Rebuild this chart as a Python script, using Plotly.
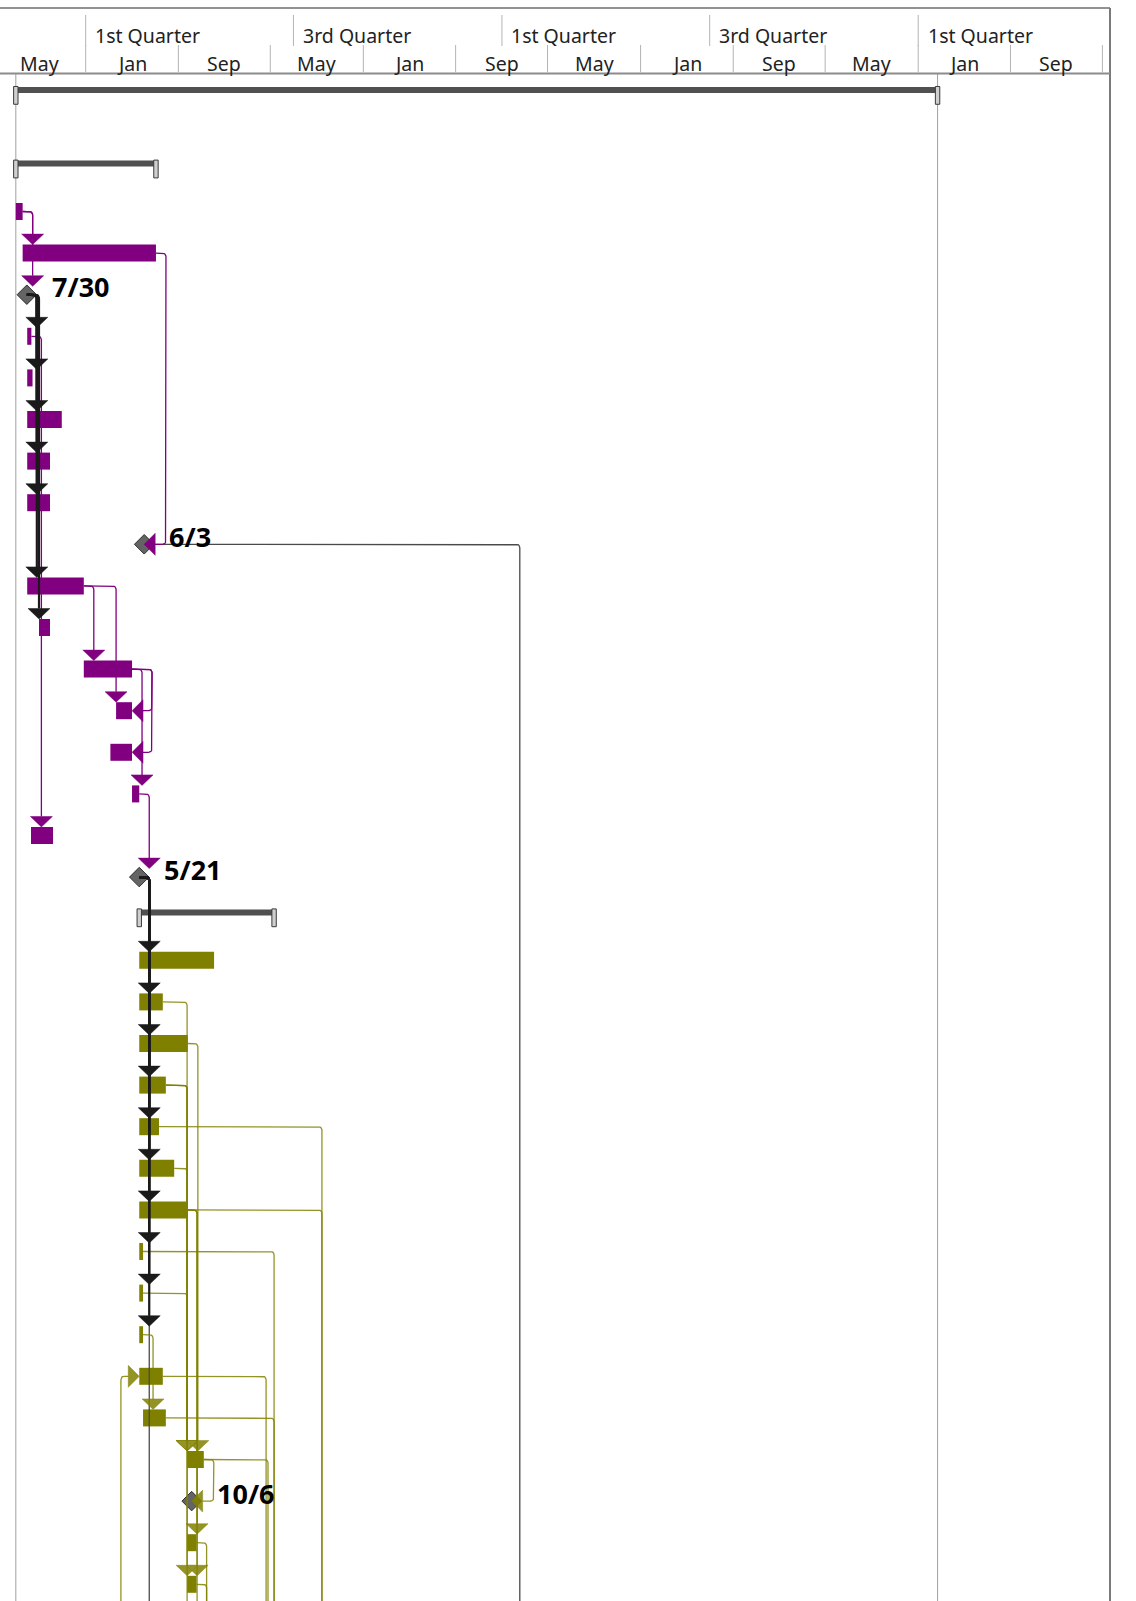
from datetime import datetime, timedelta
import math
import plotly.graph_objects as go

# ---------------- data ----------------
# timescale tiers (tick labels)
month_tier_starts = ["2019-05-01", "2020-01-01", "2020-09-01", "2021-05-01", "2022-01-01",
                     "2022-09-01", "2023-05-01", "2024-01-01", "2024-09-01", "2025-05-01",
                     "2026-01-01", "2026-09-01", "2027-05-01"]
month_tier_labels = ["May", "Jan", "Sep", "May", "Jan", "Sep", "May", "Jan", "Sep", "May", "Jan", "Sep"]
quarter_tier_starts = ["2020-01-01", "2021-07-01", "2023-01-01", "2024-07-01", "2026-01-01"]
quarter_tier_labels = ["1st Quarter", "3rd Quarter", "1st Quarter", "3rd Quarter", "1st Quarter"]

# tasks (row number, kind, start, finish, group, critical)
task_row = [0, 2, 3, 4, 5, 6, 7, 8, 9, 10, 11, 12, 13, 14, 15, 16, 17, 18, 19,
            20, 21, 22, 23, 24, 25, 26, 27, 28, 29, 30, 31, 32, 33, 34, 35, 36,
            40, 41, 42, 43, 44, 45, 46, 47, 48]
task_kind = ["summary", "summary", "task", "task", "milestone", "task", "task", "task", "task", "task",
             "milestone", "task", "task", "task", "task", "task", "task", "task", "milestone",
             "summary", "task", "task", "task", "task", "task", "task", "task", "task", "task", "task",
             "task", "task", "task", "milestone", "task", "task",
             "task", "task", "task", "task", "task", "task", "task", "task", "task"]
task_start = ["2019-07-01", "2019-07-01", "2019-07-01", "2019-07-19", "2019-07-30", "2019-07-31",
              "2019-07-31", "2019-07-31", "2019-07-31", "2019-07-31", "2020-06-03", "2019-07-31",
              "2019-08-31", "2019-12-27", "2020-03-21", "2020-03-06", "2020-05-02", "2019-08-10",
              "2020-05-21",
              "2020-05-21", "2020-05-21", "2020-05-21", "2020-05-21", "2020-05-21", "2020-05-21",
              "2020-05-21", "2020-05-21", "2020-05-21", "2020-05-21", "2020-05-21", "2020-05-21",
              "2020-05-31", "2020-09-24", "2020-10-06", "2020-09-24", "2020-09-24",
              "2023-02-17", "2020-05-21", "2021-09-14", "2021-05-11", "2021-04-20", "2021-04-25",
              "2020-04-29", "2020-10-10", "2020-09-24"]
task_finish = ["2026-02-21", "2020-07-04", "2019-07-19", "2020-07-04", "2019-07-30", "2019-08-11",
               "2019-08-14", "2019-10-30", "2019-09-29", "2019-09-29", "2020-06-03", "2019-12-27",
               "2019-09-29", "2020-05-02", "2020-05-02", "2020-05-02", "2020-05-21", "2019-10-07",
               "2020-05-21",
               "2021-05-11", "2020-12-04", "2020-07-22", "2020-09-26", "2020-07-30", "2020-07-12",
               "2020-08-21", "2020-09-24", "2020-05-31", "2020-05-31", "2020-05-31", "2020-07-22",
               "2020-07-30", "2020-11-07", "2020-10-06", "2020-10-19", "2020-10-19",
               "2023-06-01", "2020-08-01", "2021-12-01", "2021-08-01", "2021-07-01", "2021-07-01",
               "2020-06-01", "2020-12-01", "2020-11-01"]
task_group = ["proj", "proj", "purple", "purple", "ms", "purple", "purple", "purple", "purple", "purple",
              "ms", "purple", "purple", "purple", "purple", "purple", "purple", "purple", "ms",
              "proj", "olive", "olive", "olive", "olive", "olive", "olive", "olive", "olive", "olive",
              "olive", "olive", "olive", "olive", "ms", "olive", "olive",
              "olive", "olive", "olive", "olive", "olive", "olive", "olive", "olive", "olive"]
task_critical = [False, False, False, False, True, True, True, True, True, True,
                 False, True, True, False, False, False, False, False, True,
                 False, True, True, True, True, True, True, True, True, True, True,
                 False, False, False, False, False, False,
                 False, False, False, False, False, False, False, False, False]

# dependencies (by row number)
link_pred = [3, 3, 4, 5, 5, 5, 5, 5, 5, 5, 6, 12, 12, 14, 14, 14, 17, 11,
             19, 19, 19, 19, 19, 19, 19, 19, 19, 19, 19,
             22, 23, 24, 26, 29, 24, 27, 27, 27, 24, 25, 27, 28, 30, 31, 32, 33, 33, 46, 35, 36]
link_succ = [4, 5, 11, 6, 7, 8, 9, 10, 12, 13, 18, 14, 15, 17, 15, 16, 19, 40,
             21, 22, 23, 24, 25, 26, 27, 28, 29, 30, 41,
             33, 33, 33, 33, 33, 36, 35, 36, 48, 48, 42, 42, 43, 32, 44, 43, 34, 45, 31, 47, 47]
link_type = ["FS", "FS", "FF", "FS", "FS", "FS", "FS", "FS", "FS", "FS", "FS", "FS", "FS", "FS", "FF", "FF", "FS", "FS",
             "FS", "FS", "FS", "FS", "FS", "FS", "FS", "FS", "FS", "FS", "FS",
             "FS", "FS", "FS", "FS", "FS", "FS", "FS", "FS", "FS", "FS", "FS", "FS", "FS", "FS", "FS", "FS", "FF", "FS", "SS", "FS", "FS"]

# ---------------- layout constants ----------------
W, H = 1136, 1601
PLOT_TOP = 74
PLOT_RIGHT = 1110
PXD = 0.37979              # pixels per day
X_ORIGIN = datetime(2020, 1, 1)
X_ORIGIN_PX = 85.7
ROW_PX = 41.6
ROW3_PX = 211.5
PROJECT_ROW_POS = 0.23     # outline-level-0 row sits slightly lower

COLORS = {"purple": "#800080", "olive": "#808000", "ms": "#4a4a4a", "proj": "#505050"}
LINK_COLORS = {"purple": "#800080", "olive": "rgba(128,128,0,0.85)", "ms": "#4a4a4a", "crit": "#1a1a1a"}
FONT = "Noto Sans"


def D(s):
    return datetime.fromisoformat(s)


def date_to_px(d):
    return X_ORIGIN_PX + (d - X_ORIGIN).total_seconds() / 86400.0 * PXD


def px_to_date(p):
    return X_ORIGIN + timedelta(days=(p - X_ORIGIN_PX) / PXD)


def row_pos(r):
    return PROJECT_ROW_POS if r == 0 else r


def row_to_px(r):
    return ROW3_PX + (r - 3) * ROW_PX


def px_to_row(p):
    return 3 + (p - ROW3_PX) / ROW_PX


def ypaper(p):
    return 1 - (p - PLOT_TOP) / (H - PLOT_TOP)


tasks = {}
for i, r in enumerate(task_row):
    tasks[r] = dict(kind=task_kind[i], s=D(task_start[i]), f=D(task_finish[i]),
                    g=task_group[i], c=task_critical[i])

fig = go.Figure()
shapes = []
annotations = []

# ---------------- header ----------------
shapes.append(dict(type="line", xref="paper", yref="paper", x0=0, x1=1,
                   y0=ypaper(8), y1=ypaper(8), line=dict(color="#6e6e6e", width=1.5)))
shapes.append(dict(type="line", xref="paper", yref="paper", x0=1, x1=1,
                   y0=ypaper(8), y1=0, line=dict(color="#7a7a7a", width=2)))
shapes.append(dict(type="line", xref="paper", yref="paper", x0=0, x1=1,
                   y0=ypaper(73.5), y1=ypaper(73.5), line=dict(color="#8c8c8c", width=2)))

for k, s in enumerate(month_tier_starts):
    d = D(s)
    shapes.append(dict(type="line", xref="x", yref="paper", x0=d, x1=d,
                       y0=ypaper(45), y1=ypaper(72.5), line=dict(color="#b4b4b4", width=1)))
    if k < len(month_tier_labels):
        d2 = D(month_tier_starts[k + 1])
        mid = d + (d2 - d) / 2
        annotations.append(dict(x=mid, y=ypaper(63), xref="x", yref="paper", text=month_tier_labels[k],
                                showarrow=False, xanchor="center", yanchor="middle",
                                font=dict(family=FONT, size=19.5, color="#222222")))
for s, lab in zip(quarter_tier_starts, quarter_tier_labels):
    d = D(s)
    shapes.append(dict(type="line", xref="x", yref="paper", x0=d, x1=d,
                       y0=ypaper(15), y1=ypaper(46), line=dict(color="#b4b4b4", width=1)))
    annotations.append(dict(x=px_to_date(date_to_px(d) + 7.5), y=ypaper(35), xref="x", yref="paper",
                            text=lab, showarrow=False, xanchor="left", yanchor="middle",
                            font=dict(family=FONT, size=19.5, color="#222222")))

# project start / finish lines
prj = tasks[0]
for d in (prj["s"], prj["f"]):
    shapes.append(dict(type="line", xref="x", yref="paper", x0=d, x1=d, y0=0, y1=1,
                       line=dict(color="#a0a0a0", width=1), layer="below"))

# ---------------- bars ----------------
BAR_HALF = 8.5 / ROW_PX
ms_x, ms_y = [], []
for r, t in tasks.items():
    y = row_pos(r)
    if t["kind"] == "task":
        shapes.append(dict(type="rect", xref="x", yref="y", x0=t["s"], x1=t["f"],
                           y0=y - BAR_HALF, y1=y + BAR_HALF, fillcolor=COLORS[t["g"]],
                           line=dict(width=0), layer="below"))
    elif t["kind"] == "summary":
        shapes.append(dict(type="rect", xref="x", yref="y", x0=t["s"], x1=t["f"],
                           y0=y - 9.3 / ROW_PX, y1=y - 3.3 / ROW_PX, fillcolor=COLORS["proj"],
                           line=dict(width=0), layer="below"))
        for d in (t["s"], t["f"]):
            p = date_to_px(d)
            shapes.append(dict(type="rect", xref="x", yref="y", x0=px_to_date(p - 2.2),
                               x1=px_to_date(p + 2.2), y0=y - 9.8 / ROW_PX, y1=y + 8 / ROW_PX,
                               fillcolor="#cfcfcf", line=dict(color="#3a3a3a", width=1), layer="below"))
    else:
        ms_x.append(t["s"])
        ms_y.append(y)
        lab = f"{t['s'].month}/{t['s'].day}"
        annotations.append(dict(x=px_to_date(date_to_px(t["s"]) + 23), y=y - 8 / ROW_PX, xref="x", yref="y",
                                text=f"<b>{lab}</b>", showarrow=False, xanchor="left", yanchor="middle",
                                font=dict(family=FONT, size=27, color="#000000")))

fig.add_trace(go.Scatter(x=ms_x, y=ms_y, mode="markers", hoverinfo="skip", showlegend=False,
                         marker=dict(symbol="diamond", size=15, color="#646464",
                                     line=dict(color="#2e2e2e", width=1))))


# ---------------- links ----------------
def rounded(pts, r=4.0):
    clean = [pts[0]]
    for p in pts[1:]:
        if abs(p[0] - clean[-1][0]) > 1e-6 or abs(p[1] - clean[-1][1]) > 1e-6:
            clean.append(p)
    pts = clean
    if len(pts) < 3:
        return pts
    out = [pts[0]]
    for i in range(1, len(pts) - 1):
        p0, p1, p2 = pts[i - 1], pts[i], pts[i + 1]
        l1 = math.hypot(p1[0] - p0[0], p1[1] - p0[1])
        l2 = math.hypot(p2[0] - p1[0], p2[1] - p1[1])
        rr = min(r, l1 / 2, l2 / 2)
        if rr < 0.5:
            out.append(p1)
            continue
        u1 = ((p1[0] - p0[0]) / l1, (p1[1] - p0[1]) / l1)
        u2 = ((p2[0] - p1[0]) / l2, (p2[1] - p1[1]) / l2)
        a = (p1[0] - u1[0] * rr, p1[1] - u1[1] * rr)
        b = (p1[0] + u2[0] * rr, p1[1] + u2[1] * rr)
        for k in range(7):
            tt = k / 6
            out.append(((1 - tt) ** 2 * a[0] + 2 * (1 - tt) * tt * p1[0] + tt * tt * b[0],
                        (1 - tt) ** 2 * a[1] + 2 * (1 - tt) * tt * p1[1] + tt * tt * b[1]))
    out.append(pts[-1])
    return out


lines = {}   # color key -> (xs, ys)
tris = {}
OFF = 10.0
AH, AW = 10.5, 11.0
fs_lanes = {}

order = sorted(range(len(link_pred)), key=lambda i: {"FS": 0, "SS": 1, "FF": 2}[link_type[i]])
for i in order:
    p, s, typ = tasks[link_pred[i]], tasks[link_succ[i]], link_type[i]
    yp, ys = row_to_px(row_pos(link_pred[i])), row_to_px(row_pos(link_succ[i]))
    pf, ps = date_to_px(p["f"]), date_to_px(p["s"])
    sf, ss = date_to_px(s["f"]), date_to_px(s["s"])
    key = "crit" if (p["c"] and s["c"]) else p["g"]
    if typ == "FS":
        X = max(pf + OFF, ss)
        fs_lanes.setdefault(link_pred[i], []).append(X)
        sg = 1 if ys > yp else -1
        tip = ys - sg * 8.5
        base = tip - sg * AH
        path = [(pf, yp), (X, yp), (X, base)]
        tri = [(X - AW, base), (X + AW, base), (X, tip)]
    elif typ == "FF":
        X = max(pf, sf) + OFF
        if any(abs(X - l) < 3 for l in fs_lanes.get(link_pred[i], [])):
            X += OFF
        path = [(pf, yp), (X, yp), (X, ys), (sf + AW, ys)]
        tri = [(sf + AW, ys - AW), (sf + AW, ys + AW), (sf, ys)]
    else:  # SS
        X = min(ps, ss) - OFF
        path = [(ps, yp), (X, yp), (X, ys), (ss - AW, ys)]
        tri = [(ss - AW, ys - AW), (ss - AW, ys + AW), (ss, ys)]
    lx, ly = lines.setdefault(key, ([], []))
    for (a, b) in rounded(path):
        lx.append(px_to_date(a))
        ly.append(px_to_row(b))
    lx.append(None)
    ly.append(None)
    tx, ty = tris.setdefault(key, ([], []))
    for (a, b) in tri + [tri[0]]:
        tx.append(px_to_date(a))
        ty.append(px_to_row(b))
    tx.append(None)
    ty.append(None)

for key in ["ms", "olive", "purple", "crit"]:
    if key not in lines:
        continue
    width = 2.2 if key == "crit" else 1.3
    fig.add_trace(go.Scatter(x=lines[key][0], y=lines[key][1], mode="lines", hoverinfo="skip",
                             showlegend=False, line=dict(color=LINK_COLORS[key], width=width)))
    fig.add_trace(go.Scatter(x=tris[key][0], y=tris[key][1], mode="lines", fill="toself",
                             fillcolor=LINK_COLORS[key], hoverinfo="skip", showlegend=False,
                             line=dict(color=LINK_COLORS[key], width=0.5)))

fig.update_layout(
    width=W, height=H, autosize=False,
    margin=dict(l=0, r=W - PLOT_RIGHT, t=PLOT_TOP, b=0, pad=0),
    paper_bgcolor="white", plot_bgcolor="white",
    xaxis=dict(type="date", range=[px_to_date(0), px_to_date(PLOT_RIGHT)], visible=False,
               showgrid=False, zeroline=False),
    yaxis=dict(range=[px_to_row(H), px_to_row(PLOT_TOP)], visible=False, showgrid=False,
               zeroline=False),
    shapes=shapes, annotations=annotations, showlegend=False,
)

fig.write_html("out.html", config={"displayModeBar": False})
